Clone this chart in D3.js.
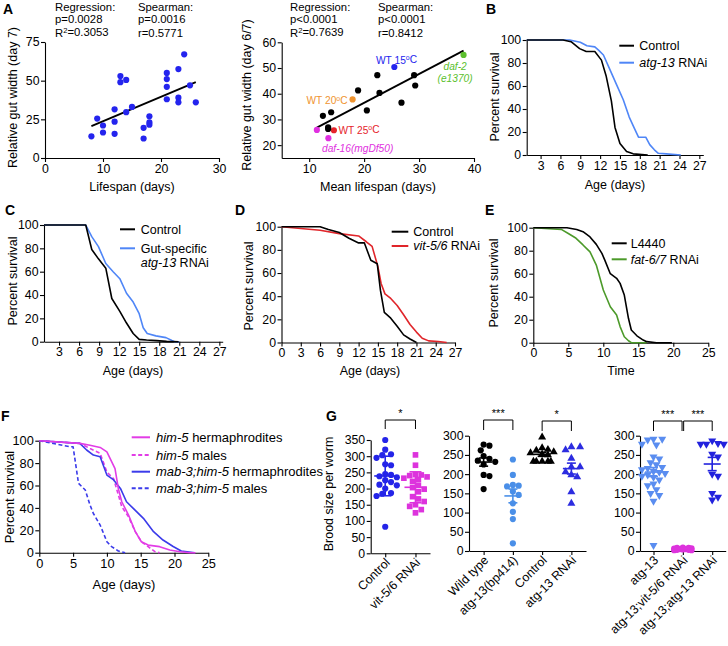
<!DOCTYPE html>
<html><head><meta charset="utf-8">
<script src="https://cdn.jsdelivr.net/npm/d3@7"></script>
<style>body{margin:0;background:#fff}svg{display:block}</style>
</head><body><svg id="c" width="728" height="646"></svg>
<script>
// ---------------- DATA ----------------
// Panel A (left): lifespan vs relative gut width (day 7)
const aLeftLifespan = [8,9,10,10,12,12,12,13,13,14,14,15,17,17,18,18,18,21,21,21,21,23,23,23,24,25,26];
const aLeftGut      = [14,25.5,21,16.5,31.5,23.5,15.6,53,49,50.5,29.6,33,19.5,12.6,27,23,21.5,55,51,46,38,57.5,39,36,67,47,36];
// Panel A (right): mean lifespan vs gut width (day 6/7)
const aRightLifespan = [25.5,38.1,17.9,14.5,11.4,13.5,12.5,14.0,13.45,13.45,18.9,20.5,22.4,22.8,26.8,29.1,29.3];
const aRightGut      = [50.4,55.1,37.8,25.8,25.9,22.7,31.4,32.8,26.9,26.3,41.3,33.5,47.2,40.3,36.5,47.2,43.2];
const aRightStrain   = ["WT15","daf2","WT20","WT25","daf16","daf16","other","other","other","other","other","other","other","other","other","other","other"];
// Panel B
const bControl = [[0.9,100],[6.4,100],[7.6,98.5],[8.9,92.5],[9.9,90],[11.2,90],[12.2,82.5],[12.9,69],[13.7,47],[14.25,24],[15,10],[16,3],[17,1],[19.2,0]];
const bAtg13   = [[0.9,100],[7.4,100],[9,98],[10,95],[11.2,94],[11.8,91],[12.5,87],[13.5,74],[14.5,61],[15.5,48],[16.4,33],[17.2,23],[17.8,15.5],[18.9,15.5],[19.5,9],[20.2,4.5],[20.8,1.5],[22,1],[24.2,0]];
// Panel C
const cControl = [[0.75,100],[7,100],[7.9,79],[8.9,71],[10,63],[10.9,37],[12.1,26],[13.1,16],[14.1,7],[15,2],[16.1,1.4],[17.6,0.9],[19.1,0.3],[20.9,0]];
const cGutAtg13 = [[0.75,100],[7,100],[7.9,90],[8.9,81.5],[10,67],[11.1,60],[12.1,54],[13.1,41.5],[14.1,34],[15,24],[15.6,12],[16.2,7],[17.5,5],[19,3.5],[19.9,1],[20.3,0],[21,0]];
// Panel D
const dControl = [[0,100],[6,100],[7.3,97.5],[9,95],[10.5,90],[12,86],[12.9,86],[13.9,71],[14.9,68],[15.4,45],[16,26],[17,21],[18,14],[19,6.6],[20,3],[21,0]];
const dVit56   = [[0,100],[6,97],[9,94],[12,92],[13.2,87],[14.1,83],[15,65.5],[15.5,51],[16.1,42],[17,38],[18,32],[19,24],[20,15.5],[21,9],[21.9,3.7],[22.9,1.4],[24.4,0.9],[25.7,0]];
// Panel E
const eL4440 = [[0,100],[4.8,100],[6.2,98.5],[7.1,96.5],[8.1,92],[9,85.5],[9.8,77.7],[10.2,72],[11,60],[11.9,56],[12.4,51.6],[13,41.4],[13.6,21],[14,11],[14.8,6],[15.7,2.3],[16.2,0.9],[17.6,0],[19.8,0]];
const eFat67 = [[0,100],[4,98.5],[5,95],[6,91.3],[7.1,85],[8.1,79],[9,67.5],[10,45.8],[11,31.3],[11.9,24],[12.4,14],[13,5.2],[13.6,1.7],[14,0],[16.2,0]];
// Panel F
const fHim5Herm  = [[0,100],[6,97.6],[7.5,96],[9,94],[10,90],[11.2,75],[11.7,57],[12.2,45.5],[13.2,33.6],[14.2,18.8],[15.1,9.8],[16.1,6.8],[17.8,5.4],[19.3,2.4],[20.8,0.9],[22.3,0],[23.1,0]];
const fHim5Male  = [[0,100],[6,97.6],[7.5,93],[9,88.7],[10,72],[11,66],[11.7,51.5],[12.2,41],[13.2,32],[14.2,18.8],[15.1,9.8],[16.1,5.4],[17.1,0.9],[17.8,0]];
const fMab3Herm  = [[0,100],[6,97.6],[7,91.7],[8,87.2],[9,85.7],[10,69.3],[11,65],[12,57.4],[12.9,45.5],[13.9,39.6],[15.4,30.7],[16.9,18.8],[18.3,11.3],[19.8,5.5],[21,1.5],[23,0]];
const fMab3Male  = [[0,100],[4.5,94.6],[5,94.6],[5.8,61.9],[6.8,56],[7.5,42.6],[8,35],[9,24.7],[10,9.8],[10.7,5.4],[11.7,1.5],[12.7,0]];
// Panel G brood sizes
const gControl   = [350,320,306,303,295,275,272,245,242,238,235,226,220,212,210,200,186,184,177,82];
const gVit56     = [304,272,243,242,240,236,232,228,222,210,203,198,190,175,168,160,150,145,135,125];
const gWildType  = [277,274,262,247,240,235,232,225,198,195,161];
const gBp414     = [238,198,172,170,168,155,146,124,102,83,20];
const gCtrlRNAi  = [296,268,264,262,258,255,252,250,233,233,233,233,233];
const gAtg13RNAi = [271,271,263,241,219,219,206,198,193,154,124];
const gAtg13     = [291,291,289,278,276,245,240,230,225,218,215,212,208,205,202,198,195,192,185,175,170,160,150,145,130,15];
const gAtg13Vit  = [2,3,4,5,5,6,7,8,8,9,3,2];
const gAtg13Atg  = [287,280,278,278,278,252,245,200,195,150,140,133];
const gCats1 = ["Control","vit-5/6 RNAi"];
const gCats2 = ["Wild type","atg-13(bp414)","Control","atg-13 RNAi"];
const gCats3 = ["atg-13","atg-13;vit-5/6 RNAi","atg-13;atg-13 RNAi"];
const survTicks27 = [3,6,9,12,15,18,21,24,27];

// ---------------- HELPERS ----------------
const FONT = '"Liberation Sans", Arial, Helvetica, sans-serif';
const svg = d3.select("#c").attr("font-family", FONT);
svg.append("rect").attr("width",728).attr("height",646).attr("fill","#fff");

function axisStyle(g, fs){
  g.attr("font-family",FONT);
  g.select(".domain").attr("stroke","#000").attr("stroke-width",1.1);
  g.selectAll(".tick line").attr("stroke","#000").attr("stroke-width",1.1);
  g.selectAll(".tick text").attr("fill","#000").attr("font-size",fs).attr("font-family",FONT);
}
function xAxisAt(x, yPos, ticks, fs=12.3){
  const g = svg.append("g").attr("transform",`translate(0,${yPos})`)
    .call(d3.axisBottom(x).tickValues(ticks).tickSize(4).tickSizeOuter(0).tickPadding(2));
  axisStyle(g, fs); return g;
}
function yAxisAt(y, xPos, ticks, fs=12.3){
  const g = svg.append("g").attr("transform",`translate(${xPos},0)`)
    .call(d3.axisLeft(y).tickValues(ticks).tickSize(4).tickSizeOuter(0).tickPadding(1.5));
  axisStyle(g, fs); return g;
}
function rich(x, y, segs, o={}){
  const t = svg.append("text").attr("x",x).attr("y",y).attr("font-size",o.fs||12)
    .attr("fill",o.fill||"#000").attr("text-anchor",o.anchor||"start");
  segs.forEach(s=>{
    if (typeof s === "string") s = {t:s};
    const ts = t.append("tspan").text(s.t);
    if (s.i) ts.attr("font-style","italic");
    if (s.sup) ts.attr("dy","-0.45em").attr("font-size","0.68em");
    if (s.after) ts.attr("dy","0.3em");
  });
  return t;
}
function ytitle(x, y, s, fs=12.5){
  svg.append("text").attr("transform",`translate(${x},${y}) rotate(-90)`)
    .attr("text-anchor","middle").attr("font-size",fs).attr("fill","#000").text(s);
}
function xtitle(x, y, s, fs=12.5){
  svg.append("text").attr("x",x).attr("y",y).attr("text-anchor","middle")
    .attr("font-size",fs).attr("fill","#000").text(s);
}
function letter(x,y,s){ svg.append("text").attr("x",x).attr("y",y).attr("font-size",14).attr("font-weight","bold").attr("fill","#000").text(s); }
function curve(x, y, data, color, dash){
  svg.append("path").datum(data).attr("fill","none").attr("stroke",color).attr("stroke-width",1.6)
    .attr("stroke-linejoin","round").attr("stroke-dasharray",dash||null)
    .attr("d", d3.line().x(d=>x(d[0])).y(d=>y(d[1])));
}
function legLine(x1,x2,y,color,dash){
  svg.append("line").attr("x1",x1).attr("x2",x2).attr("y1",y).attr("y2",y)
    .attr("stroke",color).attr("stroke-width",2).attr("stroke-dasharray",dash||null);
}
function fit(xs, ys){
  const mx=d3.mean(xs), my=d3.mean(ys);
  let sxy=0, sxx=0; xs.forEach((v,i)=>{sxy+=(v-mx)*(ys[i]-my); sxx+=(v-mx)*(v-mx);});
  const b=sxy/sxx; return {b, a:my-b*mx};
}

// ---------------- PANEL A (left) ----------------
{
  const x = d3.scaleLinear([0,30],[45,219]);
  const y = d3.scaleLinear([0,75],[158,42]);
  xAxisAt(x, 158, [0,10,20,30]);
  yAxisAt(y, 45, [0,25,50,75]);
  const f = fit(aLeftLifespan, aLeftGut);
  const [x0,x1] = d3.extent(aLeftLifespan);
  svg.append("line").attr("x1",x(x0)).attr("x2",x(x1)).attr("y1",y(f.a+f.b*x0)).attr("y2",y(f.a+f.b*x1))
    .attr("stroke","#000").attr("stroke-width",1.8);
  svg.append("g").selectAll("circle").data(aLeftLifespan).join("circle")
    .attr("cx",d=>x(d)).attr("cy",(d,i)=>y(aLeftGut[i])).attr("r",3.1).attr("fill","#2424ee");
  ytitle(16.5, 97.5, "Relative gut width (day 7)");
  xtitle(132, 191, "Lifespan (days)");
  const fs = 11.3;
  rich(55,10.5,["Regression:"],{fs}); rich(55,23.3,["p=0.0028"],{fs}); rich(55,36.5,["R",{t:"2",sup:true},{t:"=0.3053",after:true}],{fs});
  rich(138,10.5,["Spearman:"],{fs}); rich(138,23.3,["p=0.0016"],{fs}); rich(138,36.5,["r=0.5771"],{fs});
  letter(3,13.5,"A");
}
// ---------------- PANEL A (right) ----------------
{
  const x = d3.scaleLinear([5,40],[281.7,474]);
  const y = d3.scaleLinear([15,60],[158,42.3]);
  xAxisAt(x, 158, [10,20,30,40]);
  yAxisAt(y, 281.7, [20,30,40,50,60]);
  const f = fit(aRightLifespan, aRightGut);
  const [x0,x1] = d3.extent(aRightLifespan);
  svg.append("line").attr("x1",x(x0)).attr("x2",x(x1)).attr("y1",y(f.a+f.b*x0)).attr("y2",y(f.a+f.b*x1))
    .attr("stroke","#000").attr("stroke-width",1.8);
  const col = {WT15:"#2424ee", daf2:"#5cbf2e", WT20:"#ef9430", WT25:"#e5232b", daf16:"#e030e0", other:"#000"};
  svg.append("g").selectAll("circle").data(aRightLifespan).join("circle")
    .attr("cx",d=>x(d)).attr("cy",(d,i)=>y(aRightGut[i])).attr("r",3.1).attr("fill",(d,i)=>col[aRightStrain[i]]);
  ytitle(251, 95, "Relative gut width (day 6/7)");
  xtitle(378, 190.5, "Mean lifespan (days)");
  const fs = 11.3;
  rich(290,10.5,["Regression:"],{fs}); rich(290,23.3,["p<0.0001"],{fs}); rich(290,36.5,["R",{t:"2",sup:true},{t:"=0.7639",after:true}],{fs});
  rich(378,10.5,["Spearman:"],{fs}); rich(378,23.3,["p<0.0001"],{fs}); rich(378,36.5,["r=0.8412"],{fs});
  const ls = 10.2;
  rich(376,63.5,["WT 15",{t:"o",sup:true},{t:"C",after:true}],{fs:ls,fill:col.WT15});
  rich(443.5,70,[{t:"daf-2",i:true}],{fs:ls,fill:col.daf2});
  rich(437.5,81.5,[{t:"(e1370)",i:true}],{fs:ls,fill:col.daf2});
  rich(306.5,104,["WT 20",{t:"o",sup:true},{t:"C",after:true}],{fs:ls,fill:col.WT20});
  rich(338.5,133.5,["WT 25",{t:"o",sup:true},{t:"C",after:true}],{fs:ls,fill:col.WT25});
  rich(322,152,[{t:"daf-16(mgDf50)",i:true}],{fs:ls,fill:col.daf16});
}
// ---------------- PANEL B ----------------
{
  const x = d3.scaleLinear([0.9,27.6],[526.7,703.3]);
  const y = d3.scaleLinear([0,100],[155,40]);
  xAxisAt(x, 155, survTicks27);
  yAxisAt(y, 526.7, [0,20,40,60,80,100]);
  curve(x,y,bAtg13,"#4f86f7");
  curve(x,y,bControl,"#000");
  ytitle(498.5, 97, "Percent survival");
  xtitle(615, 188.5, "Age (days)");
  legLine(619.3,634,45.7,"#000"); rich(639.3,50.3,["Control"],{fs:12.5});
  legLine(619.3,634,62.7,"#4f86f7"); rich(639.3,67.3,[{t:"atg-13",i:true}," RNAi"],{fs:12.5});
  letter(486,13.5,"B");
}
// ---------------- PANEL C ----------------
{
  const x = d3.scaleLinear([0.75,27.5],[44,222.7]);
  const y = d3.scaleLinear([0,100],[341.7,225]);
  xAxisAt(x, 341.7, survTicks27);
  yAxisAt(y, 44, [0,20,40,60,80,100]);
  curve(x,y,cGutAtg13,"#4f86f7");
  curve(x,y,cControl,"#000");
  ytitle(16.5, 281, "Percent survival");
  xtitle(133, 375, "Age (days)");
  legLine(120,135,229.3,"#000"); rich(140.7,233.7,["Control"],{fs:12.5});
  legLine(120,135,248.3,"#4f86f7"); rich(140.7,252.7,["Gut-specific"],{fs:12.5});
  rich(140.7,266.5,[{t:"atg-13",i:true}," RNAi"],{fs:12.5});
  letter(5,215,"C");
}
// ---------------- PANEL D ----------------
{
  const x = d3.scaleLinear([0,27],[281.5,455]);
  const y = d3.scaleLinear([0,100],[342.5,226.7]);
  xAxisAt(x, 342.5, [0,...survTicks27]);
  yAxisAt(y, 281.5, [0,20,40,60,80,100]);
  curve(x,y,dVit56,"#e0252a");
  curve(x,y,dControl,"#000");
  ytitle(253, 286, "Percent  survival");
  xtitle(370, 375, "Age (days)");
  legLine(391.7,408.3,231.7,"#000"); rich(413.3,236,["Control"],{fs:12.5});
  legLine(391.7,408.3,246,"#e0252a"); rich(413.3,250.3,[{t:"vit-5/6",i:true}," RNAi"],{fs:12.5});
  letter(235,215,"D");
}
// ---------------- PANEL E ----------------
{
  const x = d3.scaleLinear([0,25],[533.3,708.3]);
  const y = d3.scaleLinear([0,100],[342.7,227.7]);
  xAxisAt(x, 342.7, [0,5,10,15,20,25]);
  yAxisAt(y, 533.3, [0,20,40,60,80,100]);
  curve(x,y,eFat67,"#4c9a2a");
  curve(x,y,eL4440,"#000");
  ytitle(498, 283, "Percent survival");
  xtitle(621, 375, "Time");
  legLine(611.7,626.7,243.3,"#000"); rich(630.7,247.7,["L4440"],{fs:12.5});
  legLine(611.7,626.7,259.3,"#4c9a2a"); rich(630.7,263.7,[{t:"fat-6/7",i:true}," RNAi"],{fs:12.5});
  letter(485,215,"E");
}
// ---------------- PANEL F ----------------
{
  const x = d3.scaleLinear([0,25],[39.3,208.3]);
  const y = d3.scaleLinear([0,100],[552.7,440.7]);
  xAxisAt(x, 552.7, [0,5,10,15,20,25], 12.8);
  yAxisAt(y, 39.3, [0,20,40,60,80,100], 12.8);
  const mag = "#e23ce6", blu = "#3b3bea";
  curve(x,y,fHim5Male,mag,"4,2.5");
  curve(x,y,fMab3Male,blu,"4,2.5");
  curve(x,y,fMab3Herm,blu);
  curve(x,y,fHim5Herm,mag);
  ytitle(14, 497, "Percent survival", 13);
  xtitle(124, 589, "Age (days)", 13);
  const ly = [437.3,455,471.7,488.3];
  legLine(131.7,150,ly[0],mag); rich(156,ly[0]+4.5,[{t:"him-5",i:true}," hermaphrodites"],{fs:13});
  legLine(131.7,150,ly[1],mag,"4,2.5"); rich(156,ly[1]+4.5,[{t:"him-5",i:true}," males"],{fs:13});
  legLine(131.7,150,ly[2],blu); rich(156,ly[2]+4.5,[{t:"mab-3;him-5",i:true}," hermaphrodites"],{fs:13});
  legLine(131.7,150,ly[3],blu,"4,2.5"); rich(156,ly[3]+4.5,[{t:"mab-3;him-5",i:true}," males"],{fs:13});
  letter(1,421,"F");
}
// ---------------- PANEL G ----------------
// compact deterministic beeswarm, spread limited to +-maxOff px
function swarm(vals, y, cx, dist, maxOff){
  const items = vals.map(v=>({v, py:y(v)})).sort((a,b)=>b.v-a.v);
  const placed = [];
  const step = dist*0.5;
  const offs = [0];
  for (let k=1; k*step<=maxOff; k++){ offs.push(k*step, -k*step); }
  items.forEach(it=>{
    let best=null, bestD=-1;
    for (const off of offs){
      const md = placed.length ? d3.min(placed, p=>Math.hypot(p.px-(cx+off), p.py-it.py)) : Infinity;
      if (md >= dist){ best = off; bestD = md; break; }
      if (md > bestD){ bestD = md; best = off; }
    }
    it.px = cx + best;
    placed.push(it);
  });
  return placed;
}
function sym(type, size, rot){ return {path:d3.symbol().type(type).size(size)(), rot}; }
function group(vals, cx, y, color, shape, errType, meanW, capW, maxOff){
  const pts = swarm(vals, y, cx, 5.8, maxOff||12);
  svg.append("g").selectAll("path").data(pts).join("path")
    .attr("d", shape.path).attr("fill", color)
    .attr("transform", d=>`translate(${d.px},${d.py}) rotate(${shape.rot})`);
  const m = d3.mean(vals), sd = d3.deviation(vals);
  const e = errType==="sd" ? sd : sd/Math.sqrt(vals.length);
  const g = svg.append("g").attr("stroke",color).attr("stroke-width",1.6);
  g.append("line").attr("x1",cx-meanW/2).attr("x2",cx+meanW/2).attr("y1",y(m)).attr("y2",y(m));
  g.append("line").attr("x1",cx).attr("x2",cx).attr("y1",y(m-e)).attr("y2",y(m+e));
  [m-e,m+e].forEach(v=>g.append("line").attr("x1",cx-capW/2).attr("x2",cx+capW/2).attr("y1",y(v)).attr("y2",y(v)));
}
function catAxis(x, yPos, fs=12.3){
  const g = svg.append("g").attr("transform",`translate(0,${yPos})`)
    .call(d3.axisBottom(x).tickSize(4).tickSizeOuter(0));
  axisStyle(g, fs);
  g.selectAll(".tick text").attr("text-anchor","end").attr("dy",null).attr("y",null)
    .attr("transform","translate(5,10) rotate(-45)");
}
function bracket(x1,x2,yTop,yBot,label){
  svg.append("path").attr("d",`M${x1},${yBot}V${yTop}H${x2}V${yBot}`).attr("fill","none").attr("stroke","#000").attr("stroke-width",1);
  svg.append("text").attr("x",(x1+x2)/2).attr("y",yTop-3).attr("text-anchor","middle").attr("font-size",11).attr("fill","#000").text(label);
}
const circ = sym(d3.symbolCircle, 30, 0), sq = sym(d3.symbolSquare, 32, 0),
      triU = sym(d3.symbolTriangle, 28, 0), triD = sym(d3.symbolTriangle, 28, 180);
{
  const y = d3.scaleLinear([0,350],[553.3,440]);
  const x = d3.scalePoint(gCats1,[370.7,430]).padding(0.48);
  yAxisAt(y, 370.7, [0,50,100,150,200,250,300,350]);
  catAxis(x, 553.3);
  group(gControl, x(gCats1[0]), y, "#2424e8", circ, "sd", 22, 12);
  group(gVit56, x(gCats1[1]), y, "#dd33dd", sq, "sd", 22, 12);
  bracket(x(gCats1[0]), x(gCats1[1]), 420, 429, "*");
  ytitle(333, 494, "Brood size per worm");
  letter(326,421,"G");
}
{
  const y = d3.scaleLinear([0,300],[551,435.7]);
  const x = d3.scalePoint(gCats2,[469,586]).padding(0.5);
  yAxisAt(y, 469, [0,50,100,150,200,250,300]);
  catAxis(x, 551);
  group(gWildType, x(gCats2[0]), y, "#000", circ, "sem", 17, 9);
  group(gBp414, x(gCats2[1]), y, "#4a8fe8", circ, "sem", 17, 9);
  group(gCtrlRNAi, x(gCats2[2]), y, "#000", triU, "sem", 17, 9);
  group(gAtg13RNAi, x(gCats2[3]), y, "#2c2ce0", triU, "sem", 17, 9);
  bracket(x(gCats2[0]), x(gCats2[1]), 420, 430, "***");
  bracket(x(gCats2[2]), x(gCats2[3]), 421, 431, "*");
}
{
  const y = d3.scaleLinear([0,300],[551,435.7]);
  const x = d3.scalePoint(gCats3,[640,725.7]).padding(0.46);
  yAxisAt(y, 640, [0,50,100,150,200,250,300]);
  catAxis(x, 551);
  group(gAtg13, x(gCats3[0]), y, "#5a8df0", triD, "sem", 17, 9);
  group(gAtg13Vit, x(gCats3[1]), y, "#dd33dd", circ, "sem", 17, 9, 9);
  group(gAtg13Atg, x(gCats3[2]), y, "#2222dd", triD, "sem", 17, 9);
  bracket(x(gCats3[0]), x(gCats3[1])-0.8, 421, 431, "***");
  bracket(x(gCats3[1])+0.8, x(gCats3[2]), 421, 431, "***");
}
</script></body></html>
